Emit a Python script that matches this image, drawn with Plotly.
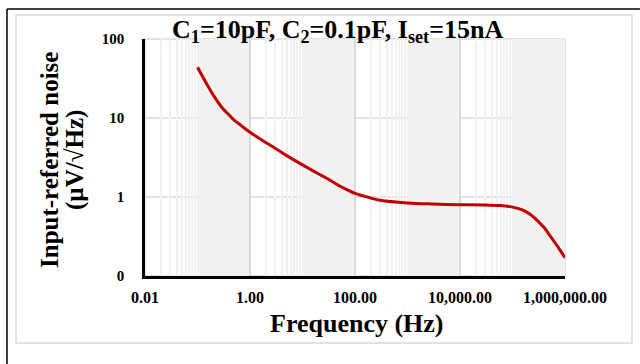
import plotly.graph_objects as go

# ---- data ----
freq_hz = [0.1, 0.15, 0.2, 0.3, 0.4, 0.5, 0.7, 1, 2, 3, 5, 10, 20, 30, 50, 70, 100, 200, 300,
           1000, 3000, 1e4, 3e4, 6e4, 1e5, 1.5e5, 2e5, 2.5e5, 3e5, 4e5, 5e5, 7e5, 1e6]
noise_uv = [44, 27, 19.5, 13.3, 10.9, 9.4, 7.9, 6.6, 4.9, 4.15, 3.34, 2.55, 1.97, 1.70, 1.39, 1.24, 1.11,
            0.97, 0.91, 0.84, 0.815, 0.80, 0.79, 0.78, 0.745, 0.69, 0.625, 0.56, 0.50, 0.41, 0.335,
            0.244, 0.17]

x_tick_vals = [0.01, 1, 100, 1e4, 1e6]
x_tick_text = ["0.01", "1.00", "100.00", "10,000.00", "1,000,000.00"]
y_tick_vals = [0.1, 1, 10, 100]
y_tick_text = ["0", "1", "10", "100"]

title_text = "<b>C<sub>1</sub>=10pF, C<sub>2</sub>=0.1pF, I<sub>set</sub>=15nA</b>"
x_title = "<b>Frequency (Hz)</b>"
y_title_lines = ["<b>Input-referred noise</b>", "<b>(µV/√Hz)</b>"]

# minor gridlines (log axis with base 100: multiples of each major value)
x_minor_vals = []
for major in [0.01, 1, 100, 1e4]:
    for k in range(2, 100):
        x_minor_vals.append(major * k)

FONT = "Liberation Serif, Times New Roman, serif"

fig = go.Figure()
fig.add_trace(go.Scatter(
    x=freq_hz, y=noise_uv, mode="lines",
    line=dict(color="#c00000", width=3, shape="spline", smoothing=1),
    showlegend=False, hoverinfo="x+y"))

W, H = 640, 364
L, R, T, B = 145, 75, 39, 88
pw, ph = W - L - R, H - T - B

def px(x):
    return (x - L) / pw

def py(y):
    return (H - B - y) / ph

shapes = [
    # outer light-gray chart border
    dict(type="rect", xref="paper", yref="paper", x0=px(16), x1=px(632), y0=py(343), y1=py(15),
         line=dict(color="#d9d9d9", width=1.5), layer="below"),
    # plot area border (light gray)
    dict(type="rect", xref="paper", yref="paper", x0=0, x1=1, y0=0, y1=1,
         line=dict(color="#d9d9d9", width=1.5), layer="below"),
    # dark lines at left and top edges
    dict(type="line", xref="paper", yref="paper", x0=px(7), x1=px(7), y0=py(364), y1=py(9),
         line=dict(color="#000000", width=1.5)),
    dict(type="line", xref="paper", yref="paper", x0=px(7), x1=px(640), y0=py(9), y1=py(9),
         line=dict(color="#000000", width=1.5)),
]
# horizontal major gridlines, drawn beneath the dense vertical minor gridlines
for yv in y_tick_vals[1:-1]:
    shapes.append(dict(type="line", xref="paper", yref="y", x0=0, x1=1, y0=yv, y1=yv,
                       line=dict(color="#d9d9d9", width=1.5), layer="below"))

annotations = [
    dict(text=title_text, xref="paper", yref="paper", x=px(337), y=py(31),
         xanchor="center", yanchor="middle", showarrow=False,
         font=dict(family=FONT, size=26, color="black")),
    dict(text=x_title, xref="paper", yref="paper", x=px(357), y=py(323),
         xanchor="center", yanchor="middle", showarrow=False,
         font=dict(family=FONT, size=26, color="black")),
    dict(text=y_title_lines[0], xref="paper", yref="paper", x=px(49), y=py(160),
         xanchor="center", yanchor="middle", textangle=-90, showarrow=False,
         font=dict(family=FONT, size=25, color="black")),
    dict(text=y_title_lines[1], xref="paper", yref="paper", x=px(75), y=py(160),
         xanchor="center", yanchor="middle", textangle=-90, showarrow=False,
         font=dict(family=FONT, size=25, color="black")),
]

fig.update_layout(
    width=W, height=H,
    margin=dict(l=L, r=R, t=T, b=B, pad=0),
    paper_bgcolor="white", plot_bgcolor="white",
    font=dict(family=FONT, color="black", size=16),
    shapes=shapes,
    annotations=annotations,
    xaxis=dict(
        type="log", range=[-2, 6], automargin=False,
        tickmode="array", tickvals=x_tick_vals, ticktext=x_tick_text,
        tickfont=dict(family=FONT, size=16, color="black", weight="bold"),
        ticks="", ticklabelstandoff=5,
        showline=True, linecolor="black", linewidth=3,
        showgrid=True, gridcolor="#d9d9d9", gridwidth=1.5,
        minor=dict(tickmode="array", tickvals=x_minor_vals, showgrid=True,
                   gridcolor="#f1f1f1", gridwidth=2, ticks=""),
        zeroline=False, fixedrange=True,
    ),
    yaxis=dict(
        type="log", range=[-1, 2], automargin=False,
        tickmode="array", tickvals=y_tick_vals, ticktext=y_tick_text,
        tickfont=dict(family=FONT, size=15, color="black", weight="bold"),
        ticks="", ticklabelstandoff=15,
        showline=True, linecolor="black", linewidth=2.5,
        showgrid=False,
        zeroline=False, fixedrange=True,
    ),
)

fig.write_html("out.html", config={"displayModeBar": False},
               post_script="document.body.style.margin='0';")
